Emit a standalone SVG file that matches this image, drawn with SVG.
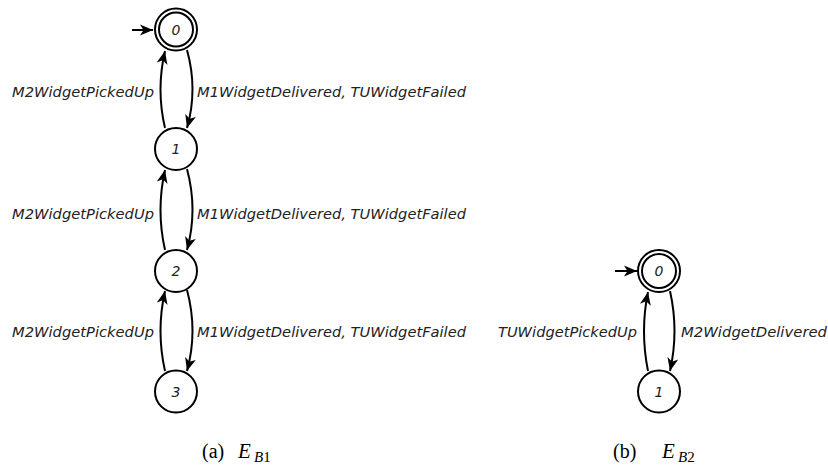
<svg xmlns="http://www.w3.org/2000/svg" width="828" height="467" viewBox="0 0 828 467">
<style>
.st{fill:#fff;stroke:#000;stroke-width:2}
.nl{font-family:"DejaVu Sans",sans-serif;font-style:italic;font-size:14px;text-anchor:middle;fill:#222}
.el{font-family:"DejaVu Sans",sans-serif;font-style:italic;font-size:13.5px;fill:#222}
.e{fill:none;stroke:#000;stroke-width:2;marker-end:url(#ah)}
.cap{font-family:"Liberation Serif",serif;font-size:20px;fill:#000}
.sub{font-size:15px}
.big{font-size:21px;font-style:italic}
</style>
<defs>
<marker id="ah" markerUnits="userSpaceOnUse" markerWidth="16" markerHeight="14" viewBox="0 0 16 14" refX="13" refY="7" orient="auto">
<path d="M0,1.5 L13,7 L0,12.5 L3.5,7 z" fill="#000"/>
</marker>
</defs>
<g id="connectors">
<path class="e" d="M132,30 L153,30"/>
<path class="e" d="M165,128 Q156,89.5 165,51"/>
<path class="e" d="M187,50 Q198,89.5 187,128"/>
<path class="e" d="M165,250 Q156,210 165,170"/>
<path class="e" d="M187,169 Q198,210 187,250"/>
<path class="e" d="M165,371 Q156,331 165,291"/>
<path class="e" d="M187,290 Q198,331 187,371"/>
<path class="e" d="M615,271 L637,271"/>
<path class="e" d="M648,371 Q640,331 648,292"/>
<path class="e" d="M670,291 Q679,331 670,371"/>
<text class="el" x="154" y="97" text-anchor="end" textLength="142" lengthAdjust="spacingAndGlyphs">M2WidgetPickedUp</text>
<text class="el" x="197" y="97" textLength="269" lengthAdjust="spacingAndGlyphs">M1WidgetDelivered, TUWidgetFailed</text>
<text class="el" x="154" y="219" text-anchor="end" textLength="142" lengthAdjust="spacingAndGlyphs">M2WidgetPickedUp</text>
<text class="el" x="197" y="219" textLength="269" lengthAdjust="spacingAndGlyphs">M1WidgetDelivered, TUWidgetFailed</text>
<text class="el" x="154" y="337" text-anchor="end" textLength="142" lengthAdjust="spacingAndGlyphs">M2WidgetPickedUp</text>
<text class="el" x="197" y="337" textLength="269" lengthAdjust="spacingAndGlyphs">M1WidgetDelivered, TUWidgetFailed</text>
<text class="el" x="637" y="337" text-anchor="end" textLength="139" lengthAdjust="spacingAndGlyphs">TUWidgetPickedUp</text>
<text class="el" x="681" y="337" textLength="146" lengthAdjust="spacingAndGlyphs">M2WidgetDelivered</text>
</g>
<g id="a0"><circle class="st" cx="176" cy="29.5" r="21"/><circle class="st" cx="176" cy="29.5" r="17"/><text class="nl" x="176" y="34.5">0</text></g>
<g id="a1"><circle class="st" cx="176" cy="149" r="21"/><text class="nl" x="176" y="154">1</text></g>
<g id="a2"><circle class="st" cx="176" cy="271" r="21"/><text class="nl" x="176" y="276">2</text></g>
<g id="a3"><circle class="st" cx="176" cy="391.5" r="21"/><text class="nl" x="176" y="396.5">3</text></g>
<g id="b0"><circle class="st" cx="659" cy="271" r="21"/><circle class="st" cx="659" cy="271" r="17"/><text class="nl" x="659" y="276">0</text></g>
<g id="b1"><circle class="st" cx="659" cy="391.5" r="21"/><text class="nl" x="659" y="396.5">1</text></g>
<g id="captions">
<text class="cap" x="202" y="458">(a)</text>
<text class="cap" x="238" y="458"><tspan class="big">E</tspan><tspan class="sub" x="254" y="462"><tspan font-style="italic">B</tspan>1</tspan></text>
<text class="cap" x="613" y="458">(b)</text>
<text class="cap" x="662" y="458"><tspan class="big">E</tspan><tspan class="sub" x="678" y="462"><tspan font-style="italic">B</tspan>2</tspan></text>
</g>
</svg>
